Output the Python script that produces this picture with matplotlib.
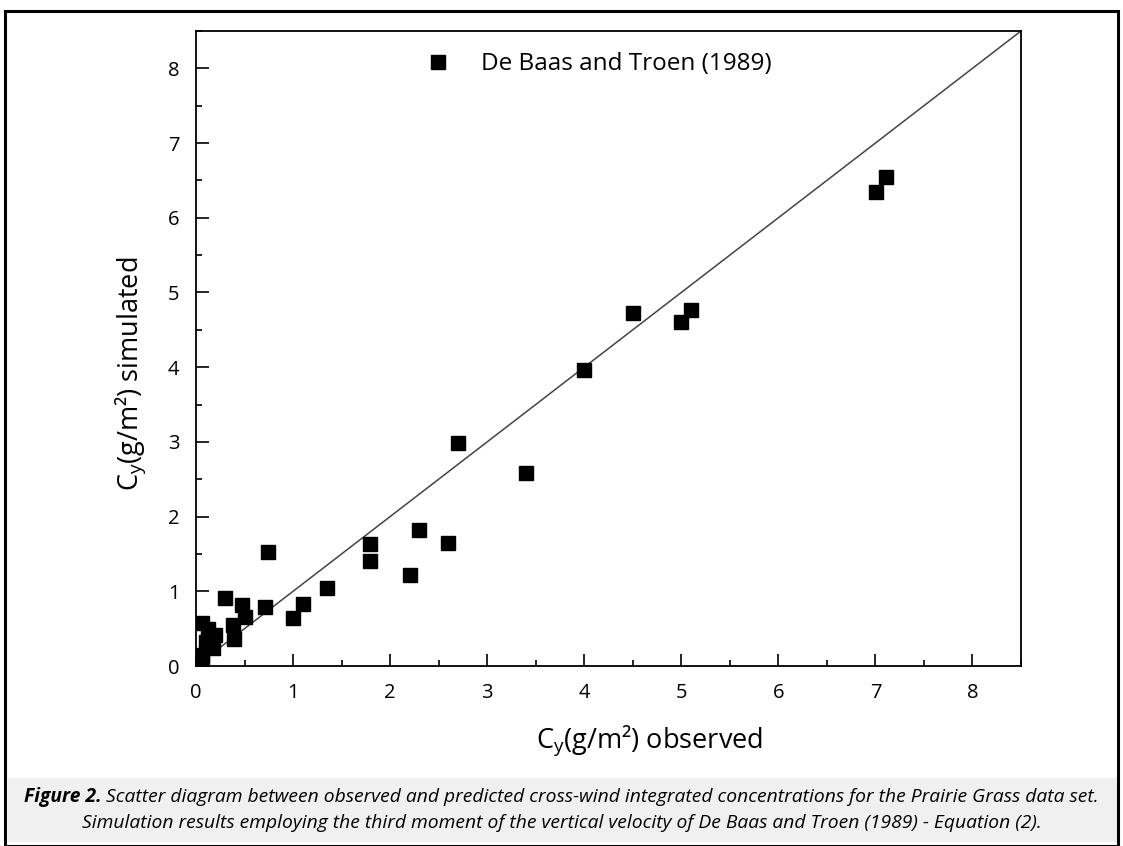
import matplotlib
matplotlib.use("Agg")
import matplotlib.pyplot as plt
from matplotlib.patches import Rectangle
from matplotlib.ticker import MultipleLocator

# ===================== data =====================
obs = [7.01, 7.11, 4.50, 5.00, 5.10, 4.00, 2.70, 3.40, 2.30, 2.60, 2.20,
       1.79, 0.74, 1.79, 1.35, 0.30, 0.47, 0.71, 1.10, 1.00, 0.50, 0.38,
       0.39, 0.06, 0.12, 0.20, 0.18, 0.06, 0.06, 0.10]
sim = [6.34, 6.54, 4.73, 4.61, 4.77, 3.96, 2.98, 2.59, 1.82, 1.65, 1.22,
       1.63, 1.52, 1.40, 1.04, 0.91, 0.82, 0.79, 0.83, 0.64, 0.65, 0.55,
       0.36, 0.57, 0.50, 0.41, 0.24, 0.15, 0.06, 0.32]
LIMIT = 8.5
TICKS = [0, 1, 2, 3, 4, 5, 6, 7, 8]
LEGEND_LABEL = "De Baas and Troen (1989)"
CAPTION_BOLD = "Figure 2."
CAPTION_1 = " Scatter diagram between observed and predicted cross-wind integrated concentrations for the Prairie Grass data set."
CAPTION_2 = "Simulation results employing the third moment of the vertical velocity of De Baas and Troen (1989) - Equation (2)."

FONT = "Open Sans"
W, H = 1123, 846

fig = plt.figure(figsize=(W / 100, H / 100), dpi=100)
fig.patch.set_facecolor("white")

# outer frame and caption band
fig.add_artist(Rectangle((8 / W, 4 / H), 1109 / W, 64 / H, transform=fig.transFigure,
                         facecolor="#f0f0f0", edgecolor="none", zorder=0))
fig.add_artist(Rectangle((5 / W, 0), 1113 / W, (H - 11) / H, transform=fig.transFigure,
                         facecolor="none", edgecolor="black", linewidth=2.2, zorder=1))

ax = fig.add_axes([196 / W, 180 / H, 825 / W, 635 / H])
ax.plot([0, LIMIT], [0, LIMIT], color="#444444", linewidth=1.1, zorder=1)
ax.plot(obs, sim, linestyle="none", marker="s", markersize=10.5, color="black",
        label=LEGEND_LABEL, zorder=2)

ax.set_xlim(0, LIMIT)
ax.set_ylim(0, LIMIT)
ax.set_xticks(TICKS)
ax.set_yticks(TICKS)
ax.xaxis.set_minor_locator(MultipleLocator(0.5))
ax.yaxis.set_minor_locator(MultipleLocator(0.5))
ax.tick_params(which="both", direction="in", top=False, right=False, width=1.2)
ax.tick_params(which="major", length=9, labelsize=14.5, pad=12)
ax.tick_params(which="minor", length=4.5)
for lab in ax.get_xticklabels() + ax.get_yticklabels():
    lab.set_fontfamily(FONT)
for sp in ax.spines.values():
    sp.set_linewidth(1.3)

ax.set_xlabel(r"C$_\mathregular{y}$(g/m²) observed", fontsize=19.5, family=FONT)
ax.set_ylabel(r"C$_\mathregular{y}$(g/m²) simulated", fontsize=19.5, family=FONT)
ax.xaxis.set_label_coords(0.55, -0.09)
ax.yaxis.set_label_coords(-0.058, 0.46)

leg = ax.legend(loc="center", bbox_to_anchor=(0.481, 0.948), frameon=False,
                prop={"family": FONT, "size": 17.5}, handletextpad=0.75,
                markerscale=1.0, borderpad=0.2)

# caption: bold lead-in followed by italic text, centred as one line
fig.canvas.draw()
renderer = fig.canvas.get_renderer()
y1 = (H - 797) / H
t_bold = fig.text(0, y1, CAPTION_BOLD, fontsize=13.9, family=FONT, style="italic",
                  weight="bold", va="center")
t_rest = fig.text(0, y1, CAPTION_1, fontsize=13.9, family=FONT, style="italic", va="center")
wb = t_bold.get_window_extent(renderer).width / W
wr = t_rest.get_window_extent(renderer).width / W
x0 = 0.5 - (wb + wr) / 2
t_bold.set_x(x0)
t_rest.set_x(x0 + wb)
fig.text(0.5, (H - 823) / H, CAPTION_2, fontsize=13.9, family=FONT, style="italic",
         ha="center", va="center")

fig.savefig("out.png", dpi=100)
